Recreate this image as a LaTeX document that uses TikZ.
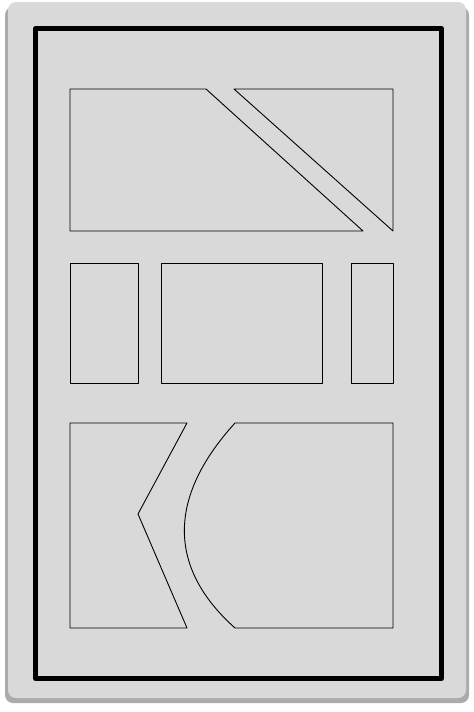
\documentclass[tikz,border=0pt]{standalone}
\usepackage{tikz}
\usetikzlibrary{calc}

\begin{document}
\begin{tikzpicture}[x=0.5pt, y=-0.5pt, line join=round]

    % canvas of the reference, in pixels (y pointing down)
    \useasboundingbox (0, 0) rectangle (473, 712);

    % Panel with its shadow
    \fill[black!33, rounded corners=4pt] (5, 7) rectangle (469, 703);
    \fill[black!15, rounded corners=4pt] (8, 2) rectangle (466, 698);

    % Thick outer frame
    \coordinate (F1) at (35.5, 28.5);
    \coordinate (F2) at (441.5, 678.5);
    \draw[line width=2.5pt] (F1) rectangle (F2);

    % Top row: two pieces cut by a slanted strip
    \coordinate (TA) at (70, 89);
    \coordinate (TB) at (206, 89);
    \coordinate (TC) at (363, 231);
    \coordinate (TD) at (70, 231);
    \coordinate (TE) at (234, 89);
    \coordinate (TF) at (393, 89);
    \coordinate (TG) at (393, 231);
    \draw[line width=0.45pt] (TA) -- (TB) -- (TC) -- (TD) -- cycle;
    \draw[line width=0.45pt] (TE) -- (TF) -- (TG) -- cycle;

    % Middle row: three plain boxes
    \draw[line width=0.45pt] (70, 263) rectangle (138, 383);
    \draw[line width=0.45pt] (161, 263) rectangle (322, 383);
    \draw[line width=0.45pt] (351, 263) rectangle (393, 383);

    % Bottom row: notched piece and curved piece
    \coordinate (BA) at (70, 423);
    \coordinate (BB) at (187, 423);
    \coordinate (BC) at (138, 514);
    \coordinate (BD) at (187, 628);
    \coordinate (BE) at (70, 628);
    \draw[line width=0.45pt] (BA) -- (BB) -- (BC) -- (BD) -- (BE) -- cycle;

    \coordinate (BF) at (235, 423);
    \coordinate (BG) at (393, 423);
    \coordinate (BH) at (393, 628);
    \coordinate (BI) at (235, 628);
    \draw[line width=0.45pt] (BF) -- (BG) -- (BH) -- (BI)
        .. controls (170, 570) and (165, 500) .. (BF) -- cycle;

\end{tikzpicture}
\end{document}
